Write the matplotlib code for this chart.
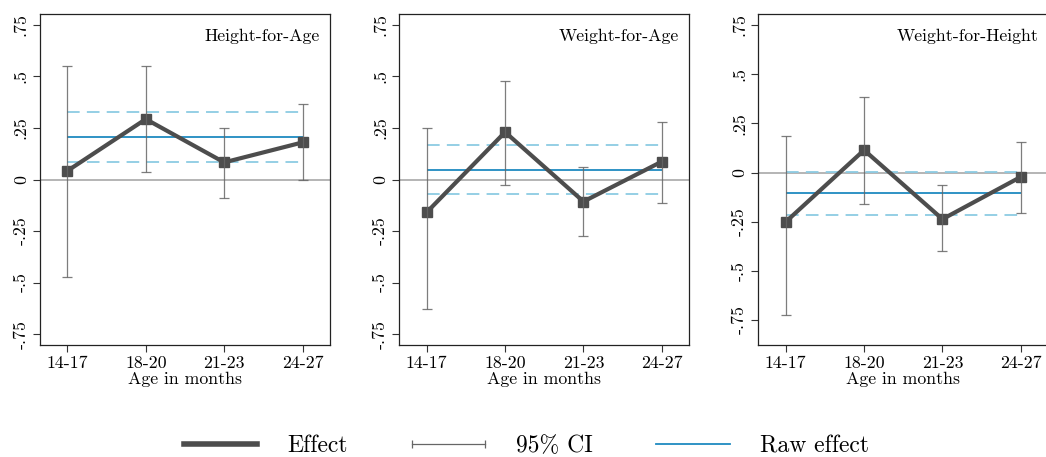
import matplotlib
matplotlib.use("Agg")
import matplotlib.pyplot as plt
from matplotlib.lines import Line2D
import numpy as np

plt.rcParams["font.family"] = ["cmr10", "DejaVu Serif"]
plt.rcParams["axes.formatter.use_mathtext"] = True

# Data
age_groups = ["14-17", "18-20", "21-23", "24-27"]
panel_titles = ["Height-for-Age", "Weight-for-Age", "Weight-for-Height"]

effect = [
    [0.042, 0.293, 0.083, 0.180],
    [-0.159, 0.230, -0.107, 0.087],
    [-0.251, 0.114, -0.237, -0.022],
]
ci_low = [
    [-0.474, 0.034, -0.092, -0.003],
    [-0.629, -0.026, -0.275, -0.112],
    [-0.722, -0.158, -0.397, -0.208],
]
ci_high = [
    [0.552, 0.549, 0.252, 0.367],
    [0.251, 0.476, 0.063, 0.278],
    [0.185, 0.385, -0.066, 0.153],
]
raw_effect = [0.205, 0.047, -0.103]
raw_low = [0.084, -0.071, -0.214]
raw_high = [0.327, 0.167, 0.005]

ytick_vals = [-0.75, -0.5, -0.25, 0, 0.25, 0.5, 0.75]
ytick_labels = ["-.75", "-.5", "-.25", "0", ".25", ".5", ".75"]
ylims = [(-0.803, 0.803), (-0.803, 0.803), (-0.877, 0.806)]

c_effect = "#4d4d4d"
c_ci = "#666666"
c_raw = "#1f8ac0"
c_raw_ci = "#8ccbe3"
c_zero = "#a0a0a0"

W, H = 1046, 457
fig = plt.figure(figsize=(W / 100, H / 100), dpi=100)

lefts = [40, 399.3, 758.3]
for i in range(3):
    ax = fig.add_axes([lefts[i] / W, (H - 345) / H, 290 / W, 331 / H])
    x = np.arange(1, len(age_groups) + 1)

    ax.axhline(0, color=c_zero, lw=1.1, zorder=1)
    ax.hlines(raw_effect[i], x[0], x[-1], color=c_raw, lw=1.3, zorder=2)
    ax.hlines([raw_low[i], raw_high[i]], x[0], x[-1], color=c_raw_ci, lw=1.3,
              linestyles=(0, (7, 4)), zorder=2)
    ax.plot(x, effect[i], color=c_effect, lw=3.0, marker="s", ms=6.5,
            solid_joinstyle="miter", zorder=3)
    ax.errorbar(x, effect[i],
                yerr=[np.array(effect[i]) - np.array(ci_low[i]),
                      np.array(ci_high[i]) - np.array(effect[i])],
                fmt="none", ecolor=c_ci, elinewidth=0.9, capsize=3.5,
                capthick=0.9, alpha=0.85, zorder=4)

    ax.set_xlim(0.65, 4.35)
    ax.set_ylim(*ylims[i])
    ax.set_xticks(x)
    ax.set_xticklabels(age_groups)
    ax.set_yticks(ytick_vals)
    ax.set_yticklabels(ytick_labels, rotation=90, va="center")
    ax.tick_params(labelsize=12.8, length=5, width=0.8, color="#333333", pad=3)
    ax.set_xlabel("Age in months", fontsize=12.8, labelpad=0)
    for s in ax.spines.values():
        s.set_linewidth(0.9)
        s.set_color("#222222")
    ax.text(0.965, 0.955, panel_titles[i], transform=ax.transAxes,
            ha="right", va="top", fontsize=12.8)

handles = [
    Line2D([], [], color=c_effect, lw=4),
    Line2D([], [], color=c_ci, lw=0.9, marker="|", ms=6, mew=0.9),
    Line2D([], [], color=c_raw, lw=1.3),
]
fig.legend(handles, ["Effect", "95% CI", "Raw effect"], loc="center",
           bbox_to_anchor=(0.5, 1 - 446 / H), ncol=3, frameon=False,
           fontsize=17, handlelength=3.7, numpoints=2, columnspacing=2.4,
           handletextpad=1.0)

fig.savefig("out.png", dpi=100)
